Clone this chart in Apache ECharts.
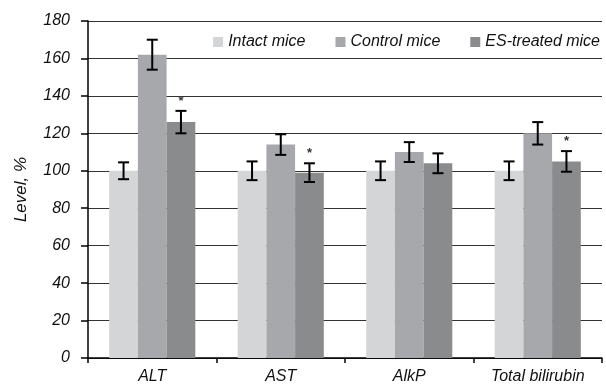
<!DOCTYPE html>
<html>
<head>
<meta charset="utf-8">
<script src="https://cdn.jsdelivr.net/npm/echarts@6/dist/echarts.min.js"></script>
<style>
  html, body { margin: 0; padding: 0; background: #fff; }
  #chart { width: 606px; height: 388px; }
</style>
</head>
<body>
<div id="chart"></div>
<script>
const categories = ['ALT', 'AST', 'AlkP', 'Total bilirubin']
const seriesNames = ['Intact mice', 'Control mice', 'ES-treated mice']
const intact = [100, 100, 100, 100]
const control = [162, 114, 110, 120]
const treated = [126, 99, 104, 105]
const intactErr = [4.5, 5, 5, 5]
const controlErr = [8, 5.5, 5.3, 6]
const treatedErr = [6, 5, 5.3, 5.5]
const treatedStar = [true, true, false, true]
const yTicks = [0, 20, 40, 60, 80, 100, 120, 140, 160, 180]

const colors = ['#d4d5d7', '#a7a8ab', '#8a8b8d']
const font = 'Liberation Sans, Arial, sans-serif'
const catGap = 0.33

const values = [intact, control, treated]
const errors = [intactErr, controlErr, treatedErr]

const chart = echarts.init(document.getElementById('chart'))

function errorRender(params, api) {
  const ci = api.value(0)
  const s = api.value(1)
  const v = api.value(2)
  const e = api.value(3)
  const bandW = api.size([1, 0])[0]
  const barW = bandW * (1 - catGap) / 3
  const c = api.coord([ci, v])
  const x = c[0] + (s - 1) * barW
  const top = api.coord([ci, v + e])[1]
  const bot = api.coord([ci, v - e])[1]
  const cap = 5.5
  const style = { stroke: '#000', lineWidth: 2 }
  return {
    type: 'group',
    children: [
      { type: 'line', shape: { x1: x, y1: top, x2: x, y2: bot }, style },
      { type: 'line', shape: { x1: x - cap, y1: top, x2: x + cap, y2: top }, style },
      { type: 'line', shape: { x1: x - cap, y1: bot, x2: x + cap, y2: bot }, style }
    ]
  }
}

function starRender(params, api) {
  const ci = api.value(0)
  const top = api.value(1)
  const bandW = api.size([1, 0])[0]
  const barW = bandW * (1 - catGap) / 3
  const c = api.coord([ci, top])
  return {
    type: 'text',
    x: c[0] + barW,
    y: c[1] - 3,
    style: {
      text: '*',
      fill: '#333',
      font: 'bold 13px ' + font,
      align: 'center',
      verticalAlign: 'bottom'
    }
  }
}

const errData = []
values.forEach((vals, s) => {
  vals.forEach((v, i) => errData.push([i, s, v, errors[s][i]]))
})
const starData = []
treated.forEach((v, i) => {
  if (treatedStar[i]) starData.push([i, v + treatedErr[i]])
})

const option = {
  animation: false,
  textStyle: { fontFamily: font },
  legend: {
    data: seriesNames,
    right: 1,
    top: 29,
    icon: 'rect',
    itemWidth: 10,
    itemHeight: 10,
    itemGap: 30,
    textStyle: { fontSize: 16, fontStyle: 'italic', color: '#111', fontFamily: font }
  },
  grid: {
    left: 88,
    right: 4,
    top: 21,
    bottom: 30,
    containLabel: false,
    outerBoundsMode: 'none'
  },
  xAxis: {
    type: 'category',
    data: categories,
    axisLine: { lineStyle: { color: '#000', width: 1.5 } },
    axisTick: { show: true, length: 5, lineStyle: { color: '#000', width: 1.5 } },
    axisLabel: { fontSize: 16, fontStyle: 'italic', color: '#111', margin: 11 }
  },
  yAxis: {
    type: 'value',
    min: 0,
    max: 180,
    interval: 20,
    name: 'Level, %',
    nameLocation: 'middle',
    nameGap: 58,
    nameTextStyle: { fontSize: 17, fontStyle: 'italic', color: '#111' },
    axisLine: { show: true, lineStyle: { color: '#000', width: 1.5 } },
    axisTick: { show: true, length: 7, lineStyle: { color: '#000', width: 1.5 } },
    axisLabel: {
      fontSize: 16,
      fontStyle: 'italic',
      color: '#111',
      margin: 18,
      formatter: v => yTicks.includes(v) ? String(v) : ''
    },
    splitLine: { lineStyle: { color: '#333', width: 1.2 } }
  },
  series: [
    ...seriesNames.map((name, s) => ({
      name,
      type: 'bar',
      data: values[s],
      barGap: 0,
      barCategoryGap: (catGap * 100) + '%',
      itemStyle: { color: colors[s] }
    })),
    {
      type: 'custom',
      renderItem: errorRender,
      data: errData,
      encode: { x: 0, y: 2 },
      z: 10,
      silent: true
    },
    {
      type: 'custom',
      renderItem: starRender,
      data: starData,
      encode: { x: 0, y: 1 },
      z: 10,
      silent: true
    }
  ]
}

chart.setOption(option)
</script>
</body>
</html>
